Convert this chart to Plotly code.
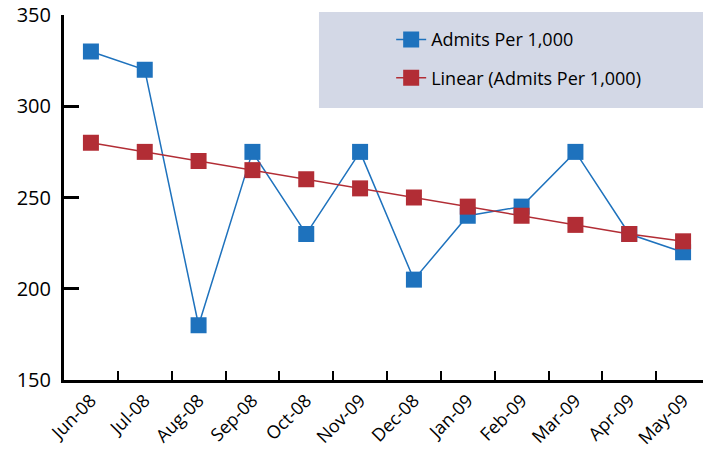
import plotly.graph_objects as go

months = ["Jun-08", "Jul-08", "Aug-08", "Sep-08", "Oct-08", "Nov-09",
          "Dec-08", "Jan-09", "Feb-09", "Mar-09", "Apr-09", "May-09"]
admits = [330, 320, 180, 275, 230, 275, 205, 240, 245, 275, 230, 220]
linear = [280, 275, 270, 265, 260, 255, 250, 245, 240, 235, 230, 226]

BLUE = "#1E72BD"
RED = "#B22D35"
FONT = "Open Sans, Noto Sans, sans-serif"

fig = go.Figure()
fig.add_trace(go.Scatter(
    x=months, y=admits, mode="lines+markers", name="Admits Per 1,000",
    line=dict(color=BLUE, width=1.5),
    marker=dict(symbol="square", size=16, color=BLUE),
    legendgroup="a", cliponaxis=False,
))
fig.add_trace(go.Scatter(
    x=months, y=linear, mode="lines+markers", name="Linear (Admits Per 1,000)",
    line=dict(color=RED, width=1.5),
    marker=dict(symbol="square", size=16, color=RED),
    legendgroup="b", cliponaxis=False,
))

fig.add_shape(type="rect", xref="paper", yref="paper",
              x0=0.399, x1=1.0, y0=0.745, y1=1.008,
              fillcolor="#D3D8E6", line=dict(width=0), layer="below")

fig.update_layout(
    width=703, height=454,
    margin=dict(l=64, r=0, t=15, b=74, autoexpand=False),
    paper_bgcolor="white", plot_bgcolor="white",
    font=dict(family=FONT, size=18, color="black"),
    showlegend=True,
    legend=dict(x=0.512, y=0.983, xanchor="left", yanchor="top",
                bgcolor="rgba(0,0,0,0)", font=dict(size=18),
                tracegroupgap=12, itemsizing="trace"),
    xaxis=dict(
        type="category", range=[-0.5, 11.37], automargin=False,
        showline=True, linecolor="black", linewidth=3,
        ticks="inside", ticklen=9, tickwidth=2, tickcolor="black",
        tickson="boundaries", tickangle=-45,
        showgrid=False, zeroline=False, ticklabeloverflow="allow",
        tickfont=dict(size=18),
    ),
    yaxis=dict(
        range=[150, 350], dtick=50, automargin=False,
        showline=True, linecolor="black", linewidth=3,
        ticks="inside", ticklen=15, tickwidth=2.5, tickcolor="black",
        showgrid=False, zeroline=False, ticklabeloverflow="allow",
        tickfont=dict(size=20), ticklabelstandoff=6,
    ),
)

fig.write_html("out.html",
               config={"displayModeBar": False},
               post_script="document.body.style.margin='0';"
                           "document.body.style.overflow='hidden';")
